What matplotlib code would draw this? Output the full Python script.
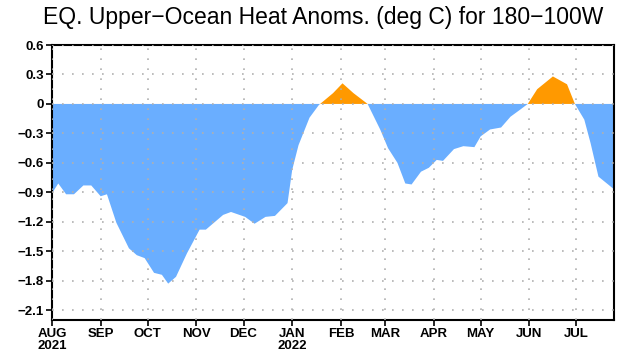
import matplotlib
matplotlib.use("Agg")
import matplotlib.pyplot as plt
import matplotlib.dates as mdates
import pandas as pd
import numpy as np

dates = ["2021-08-01", "2021-08-05", "2021-08-10", "2021-08-15", "2021-08-21", "2021-08-26",
         "2021-09-01", "2021-09-05", "2021-09-11", "2021-09-19", "2021-09-24", "2021-09-29",
         "2021-10-05", "2021-10-10", "2021-10-14", "2021-10-19", "2021-10-26", "2021-11-03",
         "2021-11-07", "2021-11-18", "2021-11-23", "2021-12-02", "2021-12-08", "2021-12-15",
         "2021-12-21", "2021-12-29", "2022-01-01", "2022-01-05", "2022-01-12", "2022-01-18",
         "2022-01-27", "2022-02-02", "2022-02-09", "2022-02-18", "2022-02-26", "2022-03-03",
         "2022-03-09", "2022-03-14", "2022-03-18", "2022-03-24", "2022-03-29", "2022-04-03",
         "2022-04-07", "2022-04-14", "2022-04-20", "2022-04-27", "2022-05-01", "2022-05-07",
         "2022-05-14", "2022-05-20", "2022-05-26", "2022-05-31", "2022-06-06", "2022-06-16",
         "2022-06-25", "2022-06-30", "2022-07-06", "2022-07-10", "2022-07-15", "2022-07-25"]
values = [-0.91, -0.81, -0.92, -0.92, -0.83, -0.83,
          -0.94, -0.92, -1.21, -1.47, -1.54, -1.57,
          -1.72, -1.74, -1.83, -1.76, -1.52, -1.28,
          -1.28, -1.13, -1.10, -1.15, -1.22, -1.15,
          -1.14, -1.01, -0.67, -0.42, -0.14, -0.01,
          0.11, 0.21, 0.11, 0.0, -0.26, -0.45,
          -0.60, -0.81, -0.82, -0.69, -0.65, -0.57,
          -0.58, -0.46, -0.43, -0.44, -0.33, -0.26,
          -0.24, -0.13, -0.06, 0.0, 0.15, 0.28,
          0.20, 0.0, -0.16, -0.40, -0.74, -0.87]

month_ticks = ["2021-08-01", "2021-09-01", "2021-10-01", "2021-11-01", "2021-12-01",
               "2022-01-01", "2022-02-01", "2022-03-01", "2022-04-01", "2022-05-01",
               "2022-06-01", "2022-07-01"]
month_labels = ["AUG\n2021", "SEP", "OCT", "NOV", "DEC", "JAN\n2022", "FEB", "MAR",
                "APR", "MAY", "JUN", "JUL"]
y_ticks = [0.6, 0.3, 0, -0.3, -0.6, -0.9, -1.2, -1.5, -1.8, -2.1]
y_labels = ["0.6", "0.3", "0", "\u22120.3", "\u22120.6", "\u22120.9", "\u22121.2",
            "\u22121.5", "\u22121.8", "\u22122.1"]
title = "EQ. Upper\u2212Ocean Heat Anoms. (deg C) for 180\u2212100W"

font = ['Liberation Sans Narrow', 'Liberation Sans', 'DejaVu Sans']

t = pd.to_datetime(dates)
# finer sampling only for smooth rendering of fill boundaries at zero crossings
td = pd.date_range(t[0], t[-1], freq="6h")
x = mdates.date2num(t)
xd = mdates.date2num(td)
vd = np.interp(xd, x, values)

fig = plt.figure(figsize=(6.41, 3.63), dpi=100)
ax = fig.add_axes([0.0811, 0.1185, 0.877, 0.7575])

ax.fill_between(xd, vd, 0, where=vd <= 0, interpolate=True, color="#6aaeff", linewidth=0)
ax.fill_between(xd, vd, 0, where=vd >= 0, interpolate=True, color="#ff9900", linewidth=0)

ax.set_xlim(mdates.date2num(pd.Timestamp("2021-08-01")), mdates.date2num(pd.Timestamp("2022-07-25")))
ax.set_ylim(-2.2, 0.6)

ax.set_xticks(mdates.date2num(pd.to_datetime(month_ticks)))
ax.set_xticklabels(month_labels, family=font, fontsize=9.5, fontweight="bold", linespacing=0.95)
ax.set_yticks(y_ticks)
ax.set_yticklabels(y_labels, family=font, fontsize=9.5, fontweight="bold")

ax.grid(True, color="#b0b0b0", linestyle=(0, (1, 5)), linewidth=1.2)
ax.set_axisbelow(False)
ax.tick_params(axis="both", direction="out", length=4, width=1.2, colors="black", pad=2)
for s in ax.spines.values():
    s.set_linewidth(1.5)
    s.set_color("black")

fig.text(0.504, 0.952, title, ha="center", va="center", family=['Liberation Sans', 'DejaVu Sans'],
         fontsize=16.5)

fig.savefig("out.png", dpi=100)
